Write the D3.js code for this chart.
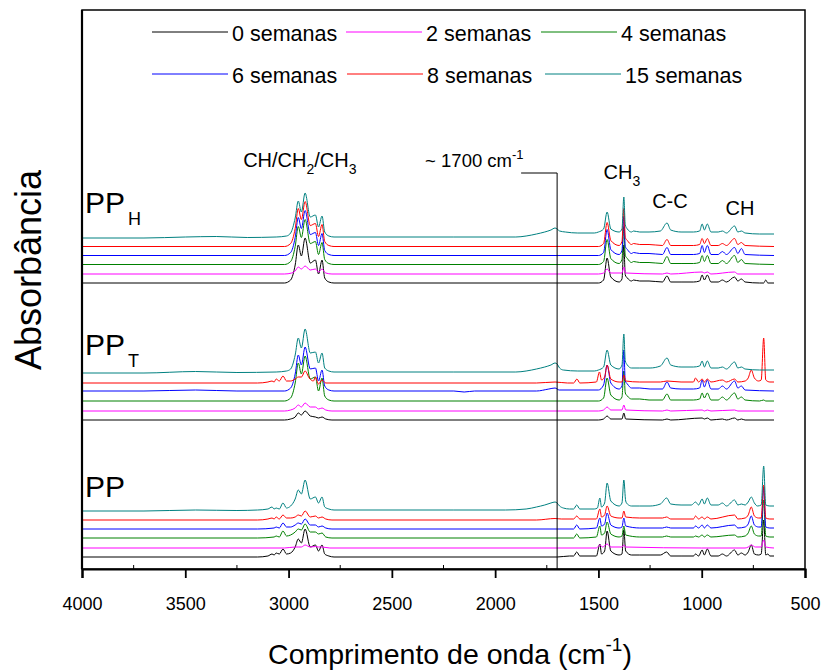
<!DOCTYPE html>
<html>
<head>
<meta charset="utf-8">
<script src="https://cdn.jsdelivr.net/npm/d3@7"></script>
<style>
  body { margin: 0; background: #fff; }
  text { font-family: "Liberation Sans", Arial, sans-serif; fill: #000; }
</style>
</head>
<body>
<svg id="chart"></svg>
<script>
// series names and colours (legend)
const weeks = ["0 semanas", "2 semanas", "4 semanas", "6 semanas", "8 semanas", "15 semanas"];
const colors = ["#000000", "#ff00ff", "#008000", "#0000ff", "#ff0000", "#008080"];

// x ticks
const majorTicks = [4000, 3500, 3000, 2500, 2000, 1500, 1000, 500];
const minorTicks = [3750, 3250, 2750, 2250, 1750, 1250, 750];

// vertical offsets (a.u.) of each stacked spectrum, per sample
const offsetsPPH = [286, 295, 304.5, 313.5, 322.5, 331];
const offsetsPPT = [149, 158, 168, 178, 186, 196];
const offsetsPP  = [12, 21, 31, 40, 49, 58];

// spectra: [wavenumber, absorbance above offset]
// ---- PP_H
const ppH0 = [[4000,0],[3020,0],[2990,3],[2968,18],[2953,38],[2938,27],[2920,45],[2895,20],[2870,23],[2855,9],[2838,23],[2825,5],[2805,1],[2780,0],[1500,0],[1475,3],[1458,25],[1440,6],[1400,1],[1386,4],[1377,38],[1370,8],[1360,5],[1340,2],[1330,3],[1300,2],[1255,2],[1190,1],[1168,7],[1150,1],[1100,1],[1040,1],[1010,2],[998,8],[987,3],[973,8],[955,1],[920,1],[900,3],[880,1],[841,6],[825,2],[808,4],[790,1],[720,0],[700,0],[690,3],[680,0],[650,0]];
const ppH2 = [[4000,0],[3020,0],[2985,1],[2968,3],[2953,7],[2938,5],[2920,8],[2895,4],[2870,5],[2855,2],[2838,5],[2820,1],[2790,0],[1500,0],[1475,1],[1458,5],[1440,1],[1386,1],[1377,7],[1368,1],[1190,0],[1168,1],[1150,0],[998,2],[987,1],[973,2],[955,0],[841,2],[825,0],[650,0]];
const ppH4 = [[4000,0],[3020,0],[2990,3],[2968,18],[2953,38],[2938,27],[2920,45],[2895,21],[2870,23],[2855,10],[2838,22],[2825,5],[2805,1],[2780,0],[1500,0],[1475,3],[1458,25],[1440,6],[1400,1],[1386,5],[1377,38],[1370,9],[1360,6],[1340,2],[1330,3],[1300,2],[1255,2],[1190,1],[1168,8],[1150,1],[1100,1],[1040,1],[1010,2],[998,9],[987,3],[973,9],[955,1],[920,1],[900,4],[880,1],[841,9],[825,2],[808,5],[790,1],[650,0]];
const ppH6 = [[4000,0],[3020,0],[2990,3],[2968,18],[2953,38],[2938,27],[2920,45],[2895,21],[2870,23],[2855,10],[2838,22],[2825,5],[2805,1],[2780,0],[1500,0],[1475,3],[1458,26],[1440,6],[1400,1],[1386,5],[1377,39],[1370,9],[1360,6],[1340,2],[1330,3],[1300,2],[1255,2],[1190,1],[1168,8],[1150,1],[1100,1],[1040,1],[1010,2],[998,10],[987,3],[973,10],[955,1],[920,1],[900,4],[880,1],[841,8],[825,2],[808,7],[790,1],[650,0]];
const ppH8 = [[4000,0],[3020,0],[2990,3],[2968,18],[2953,38],[2938,27],[2920,45],[2895,21],[2870,23],[2855,10],[2838,22],[2825,5],[2805,1],[2780,0],[1500,0],[1475,3],[1458,24],[1440,6],[1400,1],[1386,5],[1377,38],[1370,9],[1360,6],[1340,2],[1330,3],[1300,2],[1255,2],[1190,1],[1168,7],[1150,1],[1100,1],[1040,1],[1010,2],[998,8],[987,3],[973,8],[955,1],[920,1],[900,3],[880,1],[841,8],[825,2],[808,4],[790,1],[650,0]];
const ppH15 = [[4000,0],[3700,0],[3500,1],[3350,1.5],[3200,0.5],[3060,1],[3010,2],[2990,5],[2968,20],[2953,37],[2938,26],[2920,45],[2895,21],[2870,23],[2855,11],[2838,22],[2825,6],[2805,2],[2780,1],[2200,1],[1900,1],[1850,2],[1800,4],[1760,6],[1730,8],[1710,10],[1700,9],[1688,7],[1660,6],[1600,5],[1520,5],[1500,6],[1475,9],[1458,26],[1440,9],[1400,6],[1386,9],[1377,41],[1370,13],[1360,9],[1340,6],[1330,7],[1300,6],[1255,6],[1200,7],[1168,15],[1150,8],[1100,6],[1040,6],[1010,7],[998,14],[987,8],[973,14],[955,6],[920,6],[900,7],[880,5],[841,12],[825,6],[808,7],[790,5],[720,4],[650,4]];

// ---- PP_T
const ppT0 = [[4000,0],[3020,0],[2990,1],[2968,3],[2953,7],[2938,5],[2920,9],[2895,4],[2870,3],[2855,2],[2838,3],[2820,1],[2790,0],[1500,0],[1475,1],[1458,4],[1440,1],[1386,1],[1377,7],[1368,1],[1190,0],[1168,1],[1150,0],[998,2],[987,1],[973,2],[955,0],[900,1],[880,0],[841,2],[825,0],[808,1],[790,0],[650,0]];
const ppT2 = [[4000,0],[3020,0],[2990,1],[2968,3],[2953,6],[2938,4],[2920,8],[2895,4],[2870,4],[2855,2],[2838,3],[2820,1],[2790,0],[1500,0],[1475,1],[1458,4],[1440,1],[1386,1],[1377,6],[1368,1],[1190,0],[1168,1],[1150,0],[998,1],[987,0],[973,1],[955,0],[841,1],[825,0],[650,0]];
const ppT4 = [[4000,0],[3020,0],[2990,3],[2968,18],[2953,38],[2938,27],[2920,45],[2895,22],[2870,24],[2855,10],[2838,23],[2825,5],[2805,1],[2780,0],[1500,0],[1475,3],[1458,23],[1440,6],[1400,1],[1386,4],[1377,30],[1370,8],[1360,5],[1340,2],[1300,2],[1255,1],[1190,1],[1168,7],[1150,1],[1100,1],[1040,1],[1010,2],[998,8],[987,3],[973,8],[955,1],[920,1],[900,4],[880,1],[841,8],[825,2],[808,4],[790,1],[720,0],[700,1],[690,0],[650,0]];
const ppT6 = [[4000,0],[3700,0],[3450,1],[3250,0],[3020,0],[2990,3],[2968,17],[2953,36],[2938,26],[2920,44],[2895,22],[2870,23],[2855,10],[2838,21],[2825,5],[2805,1],[2780,0],[2200,0],[2150,-1],[2100,0],[1800,0],[1740,2],[1710,3],[1690,1],[1500,1],[1475,6],[1458,26],[1440,8],[1400,2],[1386,5],[1377,41],[1370,10],[1360,7],[1340,3],[1300,3],[1250,2],[1190,2],[1168,9],[1150,3],[1100,2],[1040,2],[1010,3],[998,11],[987,4],[973,11],[955,2],[920,2],[900,5],[880,2],[841,10],[825,3],[808,5],[790,1],[650,0]];
const ppT8 = [[4000,0],[3150,0],[3100,1],[3080,2],[3070,1],[3060,4],[3045,2],[3027,7],[3010,2],[2990,2],[2968,4],[2953,6],[2938,6],[2920,12],[2900,5],[2880,2],[2870,6],[2855,-1],[2838,3],[2820,0],[1800,0],[1710,1],[1650,0],[1620,0],[1604,4],[1590,0],[1510,1],[1495,11],[1485,3],[1470,6],[1458,18],[1440,4],[1400,1],[1386,1],[1377,8],[1368,2],[1300,1],[1200,1],[1168,2],[1100,1],[1040,1],[1030,5],[1015,1],[998,4],[987,1],[973,4],[955,1],[900,3],[880,1],[841,4],[825,1],[790,2],[775,5],[760,13],[745,5],[725,2],[712,3],[700,45],[690,3],[670,1],[650,1]];
const ppT15 = [[4000,0],[3700,0],[3450,1.5],[3250,0.5],[3060,1],[3010,2],[2990,4],[2968,18],[2953,35],[2938,25],[2920,44],[2895,20],[2870,21],[2855,10],[2838,20],[2825,5],[2805,2],[2780,1],[2200,1],[1900,1],[1850,2],[1800,4],[1760,6],[1730,8],[1710,10],[1700,9],[1688,5],[1670,3],[1600,2],[1520,2],[1500,3],[1475,6],[1458,23],[1440,8],[1400,4],[1386,8],[1377,39],[1370,12],[1360,8],[1340,5],[1300,5],[1250,5],[1200,7],[1168,15],[1150,8],[1100,6],[1040,6],[1010,7],[998,12],[987,6],[973,12],[955,5],[920,5],[900,6],[880,4],[841,11],[825,5],[808,6],[790,4],[720,3],[650,3]];

// ---- PP
const pp0 = [[4000,0],[3150,0],[3100,1],[3080,3],[3070,2],[3060,4],[3045,3],[3027,8],[3010,3],[2990,4],[2968,10],[2953,18],[2938,14],[2920,28],[2895,10],[2870,12],[2855,6],[2838,12],[2825,3],[2805,1],[2780,0],[1700,0],[1640,1],[1620,1],[1605,5],[1590,1],[1510,1],[1493,13],[1485,3],[1470,6],[1458,26],[1440,6],[1400,2],[1386,3],[1377,27],[1368,6],[1340,2],[1300,2],[1200,2],[1170,5],[1150,1],[1100,1],[1040,1],[1030,3],[1015,1],[998,7],[987,2],[973,8],[955,1],[920,1],[900,3],[880,1],[841,7],[825,2],[808,4],[790,2],[775,5],[760,12],[745,3],[725,2],[712,3],[700,37],[690,2],[680,3],[670,1],[650,1]];
const pp2 = [[4000,0],[3020,0],[2968,1],[2953,1],[2938,1],[2920,3],[2895,1],[2870,1.5],[2855,1],[2838,1],[2800,0],[1510,0],[1493,3],[1480,1],[1458,4],[1440,1],[1386,1],[1377,3],[1368,1],[1000,0],[790,0],[775,1],[760,3],[740,1],[712,1],[700,8],[690,1],[650,0]];
const pp4 = [[4000,0],[3150,0],[3070,1],[3060,2],[3045,1],[3027,7],[3010,2],[2990,3],[2968,6],[2953,9],[2938,8],[2920,14],[2895,6],[2870,6],[2855,4],[2838,5],[2820,1],[2790,0],[1700,0],[1620,0],[1605,4],[1590,0],[1510,1],[1493,12],[1485,3],[1470,5],[1458,16],[1440,4],[1400,1],[1386,2],[1377,12],[1368,3],[1300,1],[1190,1],[1170,2],[1150,1],[1040,1],[1030,2],[1015,1],[998,3],[987,1],[973,3],[955,1],[841,3],[825,1],[790,2],[775,5],[760,12],[745,4],[725,2],[712,2],[700,38],[690,2],[670,1],[650,1]];
const pp6 = [[4000,0],[3150,0],[3070,1],[3060,2],[3045,1],[3027,6],[3010,2],[2990,2],[2968,4],[2953,6],[2938,5],[2920,10],[2895,4],[2870,4],[2855,2],[2838,3],[2820,1],[2790,0],[1700,0],[1620,0],[1605,4],[1590,0],[1510,1],[1493,11],[1485,3],[1470,5],[1458,16],[1440,4],[1400,1],[1386,2],[1377,11],[1368,3],[1300,1],[1190,1],[1170,2],[1150,1],[1040,1],[1030,3],[1015,1],[998,4],[987,1],[973,4],[955,1],[841,4],[825,1],[790,2],[775,5],[760,13],[745,4],[725,2],[712,2],[700,42],[690,2],[670,1],[650,1]];
const pp8 = [[4000,0],[3150,0],[3100,1],[3080,2],[3070,1],[3060,3],[3045,1],[3027,5],[3010,2],[2990,2],[2968,3],[2953,5],[2938,4],[2920,9],[2895,3],[2870,4],[2855,2],[2838,3],[2820,1],[2790,0],[1800,0],[1710,1.5],[1680,1],[1620,1],[1605,4],[1590,1],[1510,1],[1493,11],[1485,3],[1470,5],[1458,14],[1440,4],[1400,2],[1386,2],[1377,9],[1368,3],[1300,2],[1190,2],[1170,3],[1150,1],[1040,1],[1030,4],[1015,1],[998,3],[987,1],[973,3],[955,1],[841,5],[825,1],[790,2],[775,5],[760,13],[745,4],[725,2],[712,2],[700,35],[690,2],[670,1],[650,1]];
const pp15 = [[4000,0],[3700,0],[3450,1],[3250,0.5],[3150,1],[3100,2],[3080,4],[3070,2],[3060,3],[3045,2],[3027,8],[3010,3],[2990,5],[2968,12],[2953,21],[2938,17],[2920,31],[2895,12],[2870,14],[2855,8],[2838,14],[2825,4],[2805,2],[2780,1],[2200,1],[1950,1],[1850,2],[1800,4],[1760,6],[1730,8],[1710,9],[1700,8],[1688,5],[1670,3],[1640,2],[1620,2],[1605,6],[1590,2],[1520,2],[1505,3],[1493,13],[1485,4],[1470,8],[1458,28],[1440,10],[1400,5],[1386,8],[1377,31],[1368,10],[1360,7],[1340,5],[1300,5],[1250,5],[1200,7],[1170,13],[1150,7],[1100,6],[1050,6],[1030,9],[1015,6],[998,12],[987,7],[973,13],[955,6],[920,6],[900,8],[880,5],[841,11],[825,6],[808,7],[790,6],[775,9],[760,14],[745,8],[730,5],[712,6],[700,45],[690,6],[670,5],[650,5]];

const groups = [
  { name: "PP", sub: "H", spectra: [ppH0, ppH2, ppH4, ppH6, ppH8, ppH15], offsets: offsetsPPH, labelY: 356 },
  { name: "PP", sub: "T", spectra: [ppT0, ppT2, ppT4, ppT6, ppT8, ppT15], offsets: offsetsPPT, labelY: 214 },
  { name: "PP", sub: "",  spectra: [pp0, pp2, pp4, pp6, pp8, pp15],       offsets: offsetsPP,  labelY: 72 }
];

const W = 825, H = 671;
const margin = { top: 10, right: 20, bottom: 102, left: 82 };
const width = W - margin.left - margin.right;
const height = H - margin.top - margin.bottom;

const svg = d3.select("#chart").attr("width", W).attr("height", H);
const g = svg.append("g").attr("transform", `translate(${margin.left},${margin.top})`);

const x = d3.scaleLinear().domain([4000, 500]).range([0, width]);
const y = d3.scaleLinear().domain([0, height]).range([height, 0]);

// spectra
groups.forEach(grp => {
  grp.spectra.forEach((spec, i) => {
    const off = grp.offsets[i];
    const line = d3.line()
      .x(d => x(d[0]))
      .y(d => y(off + d[1]))
      .curve(d3.curveMonotoneX);
    g.append("path")
      .datum(spec)
      .attr("fill", "none")
      .attr("stroke", colors[i])
      .attr("stroke-width", 1)
      .attr("d", line);
  });
  const lab = g.append("text")
    .attr("x", 3)
    .attr("y", y(grp.labelY))
    .style("font-size", "30px")
    .text(grp.name);
  if (grp.sub) {
    lab.append("tspan").attr("dx", 3).attr("dy", 12).style("font-size", "18px").text(grp.sub);
  }
});

// frame
g.append("rect")
  .attr("width", width).attr("height", height)
  .attr("fill", "none").attr("stroke", "#000").attr("stroke-width", 1.5);
g.append("line").attr("x1", 0).attr("x2", 0).attr("y1", 0).attr("y2", height)
  .attr("stroke", "#000").attr("stroke-width", 2.2);

// x axis
const xAxis = g.append("g")
  .attr("transform", `translate(0,${height})`)
  .call(d3.axisBottom(x).tickValues(majorTicks).tickSize(9).tickPadding(19).tickFormat(d3.format("d")));
xAxis.select(".domain").attr("stroke-width", 2.2);
xAxis.selectAll(".tick line").attr("stroke-width", 1.8);
xAxis.selectAll(".tick text")
  .style("font-family", '"Liberation Sans", Arial, sans-serif')
  .style("font-size", "18px");
g.selectAll(".minor").data(minorTicks).join("line")
  .attr("class", "minor")
  .attr("x1", d => x(d)).attr("x2", d => x(d))
  .attr("y1", height).attr("y2", height - 4)
  .attr("stroke", "#000").attr("stroke-width", 1);

// axis titles
const xt = svg.append("text")
  .attr("x", 450)
  .attr("y", 664)
  .attr("text-anchor", "middle")
  .style("font-size", "28.5px")
  .text("Comprimento de onda (cm");
xt.append("tspan").attr("dy", -13).style("font-size", "19px").text("-1");
xt.append("tspan").attr("dy", 13).text(")");

svg.append("text")
  .attr("transform", `translate(41,270) rotate(-90)`)
  .attr("text-anchor", "middle")
  .style("font-size", "36px")
  .text("Absorbância");

// 1700 cm-1 marker
const yMark = 163;
g.append("path")
  .attr("d", `M${x(1700) - 36},${yMark}H${x(1700)}V${height}`)
  .attr("fill", "none").attr("stroke", "#000").attr("stroke-width", 1);
const t1700 = g.append("text").attr("x", x(1700) - 132).attr("y", yMark - 6).style("font-size", "18.5px").text("~ 1700 cm");
t1700.append("tspan").attr("dy", -8).style("font-size", "13px").text("-1");

// band labels
const tCH = g.append("text").attr("x", x(3220)).attr("y", 157).style("font-size", "20px").text("CH/CH");
tCH.append("tspan").attr("dy", 7).style("font-size", "14px").text("2");
tCH.append("tspan").attr("dy", -7).text("/CH");
tCH.append("tspan").attr("dy", 7).style("font-size", "14px").text("3");

const tCH3 = g.append("text").attr("x", x(1475)).attr("y", 169).style("font-size", "20px").text("CH");
tCH3.append("tspan").attr("dy", 7).style("font-size", "14px").text("3");
g.append("text").attr("x", x(1240)).attr("y", 198).style("font-size", "20px").text("C-C");
g.append("text").attr("x", x(885)).attr("y", 205).style("font-size", "20px").text("CH");

// legend
const legendPos = [[70, 22], [264, 22], [459, 22], [70, 64], [265, 64], [463, 64]];
const leg = g.selectAll(".leg").data(weeks).join("g")
  .attr("class", "leg")
  .attr("transform", (d, i) => `translate(${legendPos[i][0]},${legendPos[i][1]})`);
leg.append("line").attr("x1", 0).attr("x2", 76).attr("stroke", (d, i) => colors[i]).attr("stroke-width", 1);
leg.append("text").attr("x", 80).attr("y", 9).style("font-size", "21.5px").text(d => d);
</script>
</body>
</html>
